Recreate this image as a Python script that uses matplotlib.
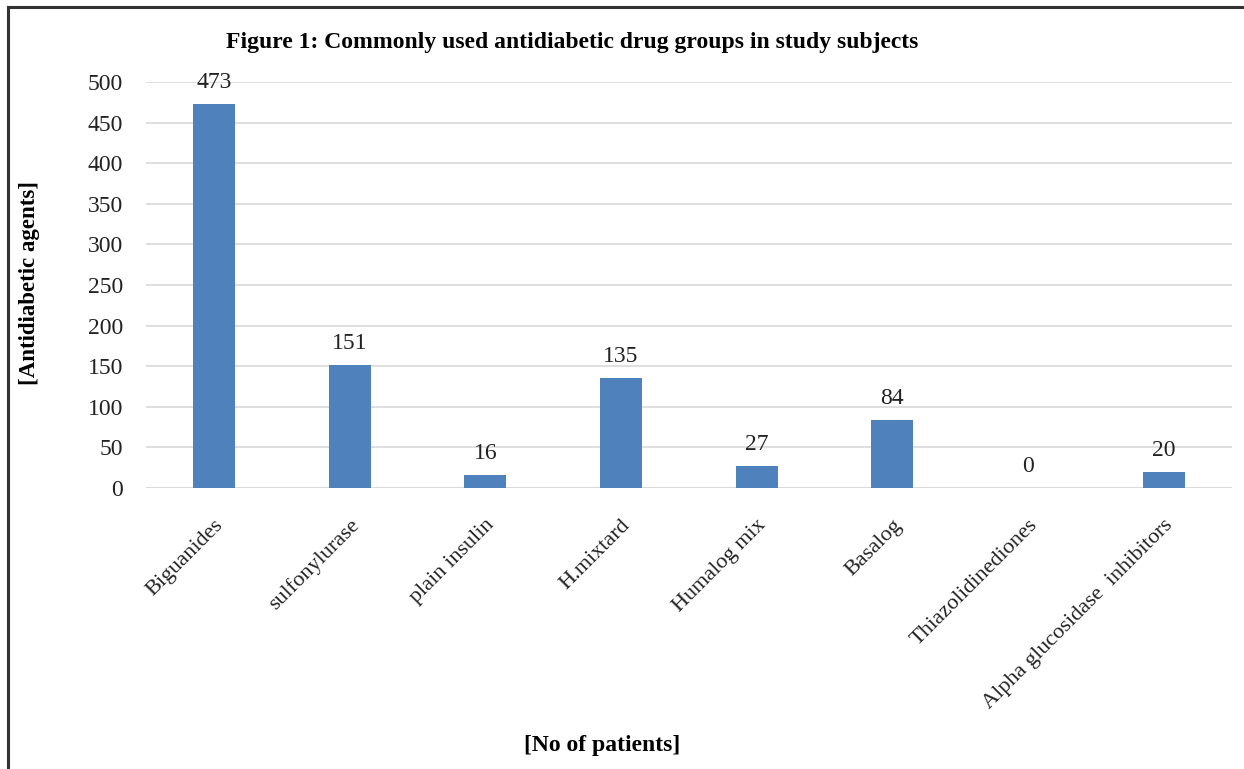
import matplotlib.pyplot as plt
from matplotlib.lines import Line2D

# data
drug_groups = ['Biguanides', 'sulfonylurase', 'plain insulin', 'H.mixtard',
               'Humalog mix', 'Basalog', 'Thiazolidinediones',
               'Alpha glucosidase  inhibitors']
patients = [473, 151, 16, 135, 27, 84, 0, 20]
y_ticks = list(range(0, 501, 50))

plt.rcParams['font.family'] = ['Liberation Serif', 'DejaVu Serif']

fig = plt.figure(figsize=(12.44, 7.69), dpi=100)
ax = fig.add_axes([0.1174, 0.3654, 0.8726, 0.528])

x = range(len(drug_groups))
ax.bar(x, patients, width=0.31, color='#4F81BD', zorder=3)
for xi, v in zip(x, patients):
    ax.annotate(str(v), (xi, v), xytext=(0, 8), textcoords='offset points',
                ha='center', va='bottom', fontsize=17, color='#222222')

ax.set_xlim(-0.5, len(drug_groups) - 0.5)
ax.set_ylim(0, 500)
ax.set_yticks(y_ticks)
ax.yaxis.grid(True, color='#d9d9d9', linewidth=1.2, zorder=0)
for s in ax.spines.values():
    s.set_visible(False)
ax.axhline(0, color='#d9d9d9', linewidth=1.2, zorder=1)
ax.tick_params(axis='both', length=0, colors='#222222')
ax.tick_params(axis='y', pad=16.5, labelsize=17)
ax.set_xticks(list(x))
ax.set_xticklabels(drug_groups, rotation=45, ha='right', rotation_mode='anchor')
ax.tick_params(axis='x', pad=20, labelsize=16)

fig.text(0.46, 0.945, 'Figure 1: Commonly used antidiabetic drug groups in study subjects',
         ha='center', va='center', fontsize=17, fontweight='bold')
fig.text(0.0235, 0.632, '[Antidiabetic agents]', rotation=90, ha='center',
         va='center', fontsize=16.5, fontweight='bold')
fig.text(0.484, 0.031, '[No of patients]', ha='center', va='center',
         fontsize=17, fontweight='bold')

# frame lines on the top and left edge
fig.add_artist(Line2D([0.0065, 1.0], [0.9905, 0.9905], color='#333333', linewidth=2.2))
fig.add_artist(Line2D([0.0065, 0.0065], [0.0, 0.9905], color='#333333', linewidth=2.2))

fig.savefig('out.png', dpi=100)
